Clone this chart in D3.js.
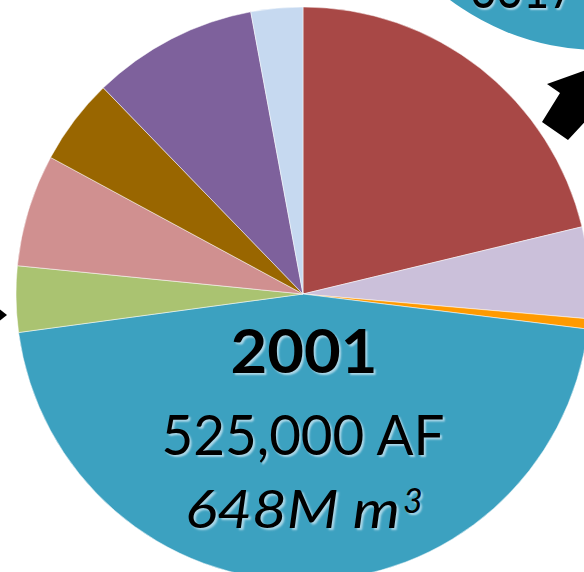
<!DOCTYPE html>
<html>
<head>
<meta charset="utf-8">
<script src="https://cdn.jsdelivr.net/npm/d3@7"></script>
<style>
  html, body { margin: 0; padding: 0; background: #fff; }
  svg { display: block; }
  .lbl { font-family: Lato, "Open Sans", sans-serif; fill: #000;
         text-shadow: 2px 2px 2px rgba(190, 225, 238, 0.85); }
</style>
</head>
<body>
<div id="chart"></div>
<script>
// water use shares for 2001, thousand AF
const categories = ['Use A', 'Use B', 'Use C', 'Use D', 'Use E', 'Use F', 'Use G', 'Use H', 'Use I'];
const values = [111.5, 27, 3, 241, 19.5, 33.2, 25.5, 49, 15.3];
const colors = ['#A84846', '#CBC0DA', '#FF9A00', '#3CA1C0', '#AAC371', '#D09090', '#996600', '#7E619C', '#C6D9F0'];
const labelLines = ['2001', '525,000 AF', '648M m'];

// neighbouring chart peeking in at top right
const otherValues = [1];
const otherLabel = '3317';

const width = 584, height = 572;
const cx = 303, cy = 294, radius = 287;

const svg = d3.select('#chart').append('svg')
  .attr('width', width)
  .attr('height', height);

// other pie (only its lower edge shows)
const other = svg.append('g').attr('transform', 'translate(600,-200)');
other.selectAll('path')
  .data(d3.pie().sort(null)(otherValues))
  .enter().append('path')
    .attr('d', d3.arc().innerRadius(0).outerRadius(250))
    .attr('fill', '#3CA1C0');
svg.append('text')
  .attr('class', 'lbl')
  .attr('x', 523).attr('y', 8)
  .attr('text-anchor', 'middle')
  .style('font-size', '56px')
  .attr('textLength', 105).attr('lengthAdjust', 'spacingAndGlyphs')
  .text(otherLabel);

// arrows
svg.append('path')
  .attr('d', 'M547,84 L592,68 L592,114 L568,140 L542,122 L560,93 Z')
  .attr('fill', '#000');
svg.append('path')
  .attr('d', 'M-2,308 L7,315 L-2,322 Z')
  .attr('fill', '#000');

// main pie
const pie = d3.pie().sort(null).value(d => d.value);
const arc = d3.arc().innerRadius(0).outerRadius(radius);
const data = categories.map((c, i) => ({ name: c, value: values[i], color: colors[i] }));

const g = svg.append('g').attr('transform', 'translate(' + cx + ',' + cy + ')');
g.selectAll('path')
  .data(pie(data))
  .enter().append('path')
    .attr('d', arc)
    .attr('fill', d => d.data.color)
    .attr('stroke', '#fff')
    .attr('stroke-width', 0.5);

// center labels
svg.append('text')
  .attr('class', 'lbl')
  .attr('x', 304).attr('y', 373)
  .attr('text-anchor', 'middle')
  .style('font-size', '62px').style('font-weight', 'bold')
  .attr('textLength', 147).attr('lengthAdjust', 'spacingAndGlyphs')
  .text(labelLines[0]);

svg.append('text')
  .attr('class', 'lbl')
  .attr('x', 303).attr('y', 455)
  .attr('text-anchor', 'middle')
  .style('font-size', '56px')
  .attr('textLength', 283).attr('lengthAdjust', 'spacingAndGlyphs')
  .text(labelLines[1]);

svg.append('text')
  .attr('class', 'lbl')
  .attr('x', 185).attr('y', 528)
  .style('font-size', '52px').style('font-style', 'italic')
  .attr('textLength', 215).attr('lengthAdjust', 'spacingAndGlyphs')
  .text(labelLines[2]);
svg.append('text')
  .attr('class', 'lbl')
  .attr('x', 403).attr('y', 513)
  .style('font-size', '34px').style('font-style', 'italic')
  .text('3');
</script>
</body>
</html>
